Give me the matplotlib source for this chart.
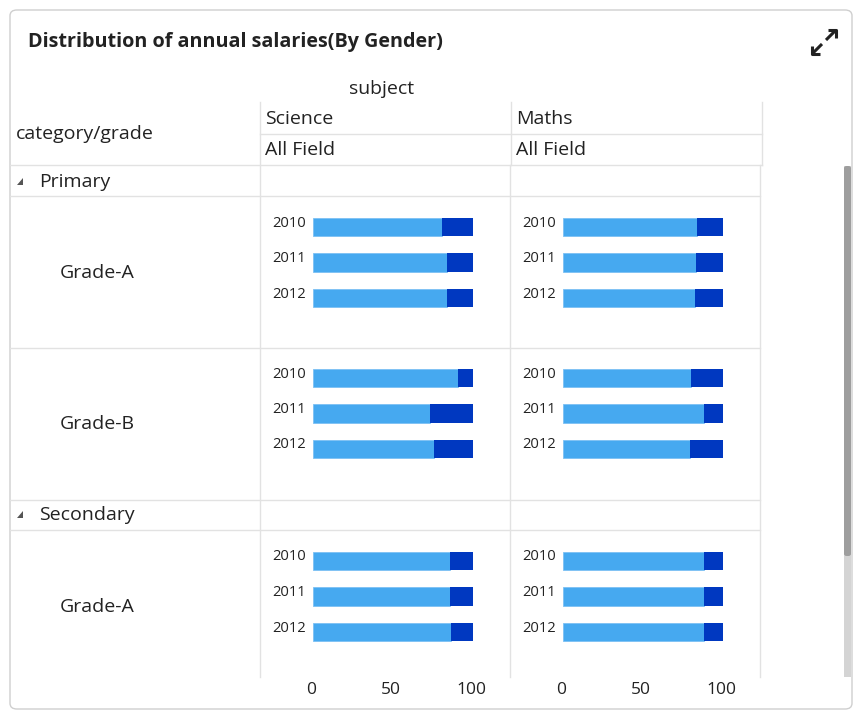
import matplotlib
matplotlib.use('Agg')
import matplotlib.pyplot as plt
from matplotlib.patches import FancyBboxPatch, Rectangle, Polygon
from matplotlib.lines import Line2D
from matplotlib.transforms import ScaledTranslation

plt.rcParams['font.family'] = ['Open Sans', 'DejaVu Sans']

W, H = 863, 719

# ── data ─────────────────────────────────────────────────────────────────────
title = 'Distribution of annual salaries(By Gender)'
years = ['2010', '2011', '2012']
subjects = ['Science', 'Maths']
row_groups = ['Primary', 'Secondary']
row_labels = ['Grade-A', 'Grade-B', 'Grade-A']
ticks = [0, 50, 100]

# share per cell: [Science, Maths] -> (light series, dark series)
primary_a_light = [[80.4, 83.5, 83.5], [84.0, 83.1, 82.5]]
primary_a_dark = [[19.6, 16.5, 16.5], [16.0, 16.9, 17.5]]
primary_b_light = [[90.4, 72.9, 75.4], [79.8, 87.9, 79.2]]
primary_b_dark = [[9.6, 27.1, 24.6], [20.2, 12.1, 20.8]]
secondary_a_light = [[85.6, 85.8, 86.0], [87.9, 88.3, 87.9]]
secondary_a_dark = [[14.4, 14.2, 14.0], [12.1, 11.7, 12.1]]

light_c = '#46a9f0'
dark_c = '#0038c0'
grid_c = '#e2e2e2'
text_c = '#222222'

fig = plt.figure(figsize=(W / 100, H / 100), dpi=100)


def fx(x):
    return x / W


def fy(y):
    return 1 - y / H


def hline(y, x0, x1, c=grid_c):
    fig.add_artist(Line2D([fx(x0), fx(x1)], [fy(y), fy(y)], color=c, lw=1))


def vline(x, y0, y1, c=grid_c):
    fig.add_artist(Line2D([fx(x), fx(x)], [fy(y0), fy(y1)], color=c, lw=1))


def label(x, y, s, size=14.0, **kw):
    # +2px: centre on the glyph body rather than the full line box
    fig.text(fx(x), fy(y + 2), s, fontsize=size, color=text_c, va='center', **kw)


# card
fig.add_artist(FancyBboxPatch((fx(10), fy(709)), fx(842), 699 / H,
                              boxstyle='round,pad=0,rounding_size=0.008',
                              fc='white', ec='#cfcfcf', lw=1, zorder=-10))

label(28, 40, title, size=14.2, fontweight='bold')

# expand icon
for pts in ([(826, 40), (835, 31)], [(828, 30), (836, 30), (836, 38)],
            [(822, 44), (813, 53)], [(820, 54), (812, 54), (812, 46)]):
    fig.add_artist(Line2D([fx(p[0]) for p in pts], [fy(p[1]) for p in pts],
                          color='#222222', lw=2.2, solid_capstyle='butt'))

# header
label(382, 87, 'subject', ha='center')
label(16, 132, 'category/grade')
for i, s in enumerate(subjects):
    x0 = 260 + i * 251
    label(x0 + 5, 117, s)
    label(x0 + 5, 148, 'All Field')
hline(134, 260, 762)
hline(165, 10, 762)
vline(260, 102, 677)
vline(511, 102, 165)
vline(762, 102, 165)
vline(510, 165, 677)
vline(760, 165, 677)

# row structure
for y in [196, 348, 500, 530]:
    hline(y, 10, 760)
for y, g in zip([181, 514], row_groups):
    fig.add_artist(Polygon([(fx(17), fy(y + 4)), (fx(23), fy(y + 4)), (fx(23), fy(y - 3))],
                           closed=True, fc='#555555', ec='none',
                           transform=fig.transFigure))
    label(39, y - 1, g)
for y, r in zip([271, 422, 605], row_labels):
    label(60, y, r)

# scrollbar
fig.add_artist(Rectangle((fx(844), fy(677)), fx(7), 511 / H, fc='#d4d4d4', ec='none'))
fig.add_artist(FancyBboxPatch((fx(844), fy(556)), fx(7), 390 / H,
                              boxstyle='round,pad=0,rounding_size=0.003',
                              fc='#9e9e9e', ec='none'))

# bar cells
cells = [(227, primary_a_light, primary_a_dark),
         (378, primary_b_light, primary_b_dark),
         (561, secondary_a_light, secondary_a_dark)]
step = 35.5
x_left = [313, 563]
for r, (top_c, light, dark) in enumerate(cells):
    y_top = top_c - step / 2
    y_bot = top_c + 2 * step + step / 2
    for j in range(2):
        ax = fig.add_axes([fx(x_left[j]), fy(y_bot), 160 / W, (y_bot - y_top) / H])
        ax.patch.set_alpha(0)
        ax.barh(years, light[j], height=0.51, color=light_c, edgecolor='#7cc0f4', lw=0.6)
        ax.barh(years, dark[j], left=light[j], height=0.51, color=dark_c, lw=0)
        ax.set_xlim(0, 100)
        ax.set_ylim(2.5, -0.5)
        for sp in ax.spines.values():
            sp.set_visible(False)
        ax.tick_params(axis='y', length=0, pad=5, labelsize=10.6, labelcolor=text_c)
        for t in ax.get_yticklabels():
            t.set_transform(t.get_transform() + ScaledTranslation(0, 6 / 100, fig.dpi_scale_trans))
        if r == 2:
            ax.set_xticks(ticks)
            ax.tick_params(axis='x', length=0, pad=23, labelsize=12.5, labelcolor=text_c)
            for t in ax.get_xticklabels():
                t.set_transform(t.get_transform() + ScaledTranslation(-2 / 100, 0, fig.dpi_scale_trans))
        else:
            ax.set_xticks([])

fig.savefig('out.png', dpi=100)
